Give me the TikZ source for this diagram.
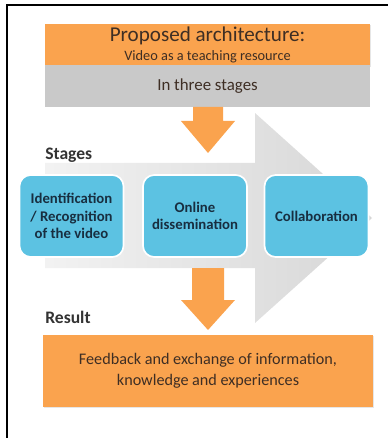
\documentclass[tikz,border=0pt]{standalone}
\usepackage{fontspec}
\setmainfont{Carlito}
\usetikzlibrary{shadows}
\definecolor{archorange}{RGB}{250,163,78}
\definecolor{archgrey}{RGB}{201,201,201}
\definecolor{archblue}{RGB}{92,194,226}
\definecolor{archnavy}{RGB}{24,46,64}
\definecolor{archtext}{RGB}{62,46,36}
\begin{document}
\begin{tikzpicture}[x=0.025cm,y=-0.025cm]
	\tikzstyle{orange box}=[rectangle,fill=archorange,text=archtext,align=center,inner sep=0]
	\tikzstyle{stage box}=[rectangle,rounded corners=8pt,fill=archblue,draw=white,line width=1.2pt,
		text=archnavy,font=\fontsize{10.5}{12.5}\selectfont\bfseries,align=center,
		minimum width=2.6cm,minimum height=2.05cm]
	\tikzset{
		block arrow/.style={fill=archorange,draw=none},
		heading/.style={anchor=west,text=black!80,font=\fontsize{12.5}{14}\selectfont\bfseries,inner sep=0}
	}
	\useasboundingbox (0,0) rectangle (390,438);
	\shade[left color=gray!10,right color=gray!32]
		(45,163) -- (255,163) -- (255,113) -- (372,218) -- (255,323) -- (255,268) -- (45,268) -- cycle;
	\node[orange box,minimum width=8.125cm,minimum height=1.05cm,
		drop shadow={opacity=0.2,shadow xshift=0.6pt,shadow yshift=-0.6pt}] (title) at (207.5,45)
		{\fontsize{15}{16}\selectfont Proposed architecture:\\[1.5pt]
		\fontsize{10.2}{11}\selectfont Video as a teaching resource};
	\node[rectangle,fill=archgrey,text=archtext,minimum width=8.125cm,minimum height=1.05cm,
		font=\fontsize{12}{14}\selectfont] (band) at (207.5,86) {In three stages};
	\fill[block arrow] (193,107) -- (223,107) -- (223,121) -- (235,121) -- (208,153) -- (181,121) -- (193,121) -- cycle;
	\node[heading] (stages) at (45,155) {Stages};
	\node[stage box] (ident) at (71.5,216) {Identification\\/ Recognition\\of the video};
	\node[stage box] (online) at (195,216) {Online\\dissemination};
	\node[stage box] (collab) at (316.5,216) {Collaboration};
	\fill[block arrow] (192,268) -- (224,268) -- (224,300) -- (235,300) -- (208,330) -- (181,300) -- (192,300) -- cycle;
	\node[heading] (result) at (45,317) {Result};
	\node[orange box,minimum width=8.25cm,minimum height=1.8cm,
		font=\fontsize{11.5}{15}\selectfont,
		drop shadow={opacity=0.2,shadow xshift=0.6pt,shadow yshift=-0.8pt}] (feedback) at (208,371)
		{Feedback and exchange of information,\\knowledge and experiences};
	\draw[line width=1.4pt] (7,438) -- (7,5) -- (388,5);
\end{tikzpicture}
\end{document}
